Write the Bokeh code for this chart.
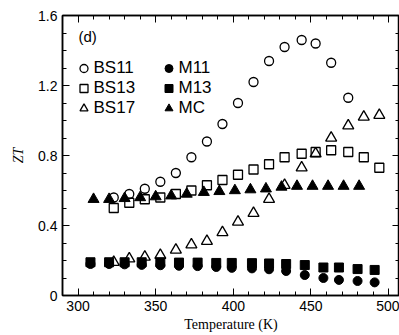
from bokeh.plotting import figure
from bokeh.models import (FixedTicker, LinearAxis, Range1d, Legend, LegendItem, Label)
from bokeh.embed import file_html
from bokeh.resources import INLINE

# ---- data ----
T_bs11 = [323, 333, 343, 353, 363, 373, 383, 393, 403, 413, 423, 433, 444, 453, 463, 474]
zt_bs11 = [0.56, 0.58, 0.61, 0.65, 0.70, 0.79, 0.88, 0.98, 1.10, 1.22, 1.34, 1.42, 1.46, 1.44, 1.33, 1.13]

T_bs13 = [323, 333, 343, 353, 363, 373, 383, 393, 403, 413, 423, 433, 444, 453, 463, 474, 484, 494]
zt_bs13 = [0.50, 0.53, 0.55, 0.56, 0.58, 0.60, 0.63, 0.66, 0.69, 0.72, 0.75, 0.79, 0.81, 0.82, 0.83, 0.82, 0.79, 0.73]

T_bs17 = [323, 333, 343, 353, 363, 373, 383, 393, 403, 413, 423, 433, 444, 453, 463, 474, 484, 494]
zt_bs17 = [0.19, 0.21, 0.22, 0.23, 0.26, 0.29, 0.31, 0.36, 0.42, 0.47, 0.55, 0.63, 0.73, 0.81, 0.90, 0.97, 1.02, 1.03]

T_m = [308, 320, 330, 341, 353, 365, 377, 389, 399, 412, 423, 434, 446, 458, 468, 480, 491]
zt_m11 = [0.18, 0.18, 0.178, 0.175, 0.173, 0.17, 0.168, 0.163, 0.158, 0.155, 0.15, 0.14, 0.117, 0.10, 0.089, 0.083, 0.075]
zt_m13 = [0.19, 0.19, 0.19, 0.19, 0.19, 0.188, 0.188, 0.186, 0.186, 0.185, 0.183, 0.18, 0.174, 0.16, 0.16, 0.151, 0.146]

T_mc = [310, 320, 330, 340, 350, 360, 370, 381, 391, 401, 411, 421, 431, 441, 451, 461, 471, 481]
zt_mc = [0.55, 0.55, 0.555, 0.56, 0.565, 0.57, 0.58, 0.59, 0.595, 0.60, 0.605, 0.61, 0.62, 0.625, 0.625, 0.625, 0.625, 0.625]

x_ticks = [300, 350, 400, 450, 500]
x_minor = list(range(290, 511, 10))
y_ticks = [0, 0.4, 0.8, 1.2, 1.6]
y_tick_labels = ["0", "0.4", "0.8", "1.2", "1.6"]
y_minor = [i / 10 for i in range(0, 17)]

p = figure(width=399, height=335, output_backend="svg", toolbar_location=None,
           x_range=Range1d(290, 507), y_range=Range1d(0, 1.6),
           min_border_left=62, min_border_right=0, min_border_top=15, min_border_bottom=40)
p.grid.visible = False
p.outline_line_color = "black"
p.outline_line_width = 1.5
p.background_fill_color = "white"
p.border_fill_color = "white"

xt = FixedTicker(ticks=x_ticks, minor_ticks=x_minor)
yt = FixedTicker(ticks=y_ticks, minor_ticks=y_minor)

def style(ax, labels=True):
    ax.axis_line_width = 1.5
    ax.axis_line_color = "black"
    ax.major_tick_in = 7
    ax.major_tick_out = 0
    ax.minor_tick_in = 4
    ax.minor_tick_out = 0
    ax.major_tick_line_color = "black"
    ax.minor_tick_line_color = "black"
    if labels:
        ax.major_label_text_font = "Liberation Sans"
        ax.major_label_text_font_size = "14px"
        ax.major_label_text_color = "black"
        ax.major_label_standoff = 5
        ax.axis_label_text_color = "black"
    else:
        ax.major_label_text_font_size = "0px"
        ax.major_label_text_color = None
        ax.major_label_standoff = 0
        ax.axis_label_standoff = 0

xa = p.xaxis[0]
xa.ticker = xt
style(xa)
xa.axis_label = "Temperature (K)"
xa.axis_label_text_font = "Liberation Serif"
xa.axis_label_text_font_style = "normal"
xa.axis_label_text_font_size = "14px"
xa.axis_label_standoff = 3

ya = p.yaxis[0]
ya.ticker = yt
style(ya)
ya.major_label_overrides = {v: s for v, s in zip(y_ticks, y_tick_labels)}
ya.axis_label = "ZT"
ya.axis_label_text_font = "Liberation Serif"
ya.axis_label_text_font_style = "italic"
ya.axis_label_text_font_size = "14px"
ya.axis_label_standoff = 9

ra = LinearAxis(ticker=yt)
style(ra, labels=False)
p.add_layout(ra, "right")
ta = LinearAxis(ticker=xt)
style(ta, labels=False)
p.add_layout(ta, "above")

ms = 9
r_bs11 = p.scatter(T_bs11, zt_bs11, marker="circle", size=ms, fill_color=None, line_color="black", line_width=1.3)
r_bs13 = p.scatter(T_bs13, zt_bs13, marker="square", size=ms, fill_color=None, line_color="black", line_width=1.3)
r_bs17 = p.scatter(T_bs17, zt_bs17, marker="triangle", size=ms + 2, fill_color=None, line_color="black", line_width=1.3)
r_m13 = p.scatter(T_m, zt_m13, marker="square", size=ms, fill_color="black", line_color="black")
r_m11 = p.scatter(T_m, zt_m11, marker="circle", size=ms, fill_color="black", line_color="black")
r_mc = p.scatter(T_mc, zt_mc, marker="triangle", size=ms + 2, fill_color="black", line_color="black")

def make_legend(items, loc):
    lg = Legend(items=items, location=loc, orientation="vertical")
    lg.background_fill_alpha = 0
    lg.border_line_color = None
    lg.padding = 0
    lg.margin = 0
    lg.spacing = 0
    lg.glyph_width = 21
    lg.glyph_height = 20
    lg.label_height = 20
    lg.label_standoff = 0
    lg.label_text_font = "Liberation Sans"
    lg.label_text_font_size = "17px"
    lg.label_text_color = "black"
    lg.label_text_baseline = "middle"
    return lg

leg1 = make_legend([LegendItem(label="BS11", renderers=[r_bs11]),
                    LegendItem(label="BS13", renderers=[r_bs13]),
                    LegendItem(label="BS17", renderers=[r_bs17])], (10.5, 177))
leg2 = make_legend([LegendItem(label="M11", renderers=[r_m11]),
                    LegendItem(label="M13", renderers=[r_m13]),
                    LegendItem(label="MC", renderers=[r_mc])], (95.5, 177))
p.add_layout(leg1)
p.add_layout(leg2)

p.add_layout(Label(x=16, y=259, x_units="screen", y_units="screen", text="(d)",
                   text_font="Liberation Sans", text_font_size="15px", text_color="black",
                   text_baseline="middle"))

open("out.html", "w").write(file_html(p, INLINE))
